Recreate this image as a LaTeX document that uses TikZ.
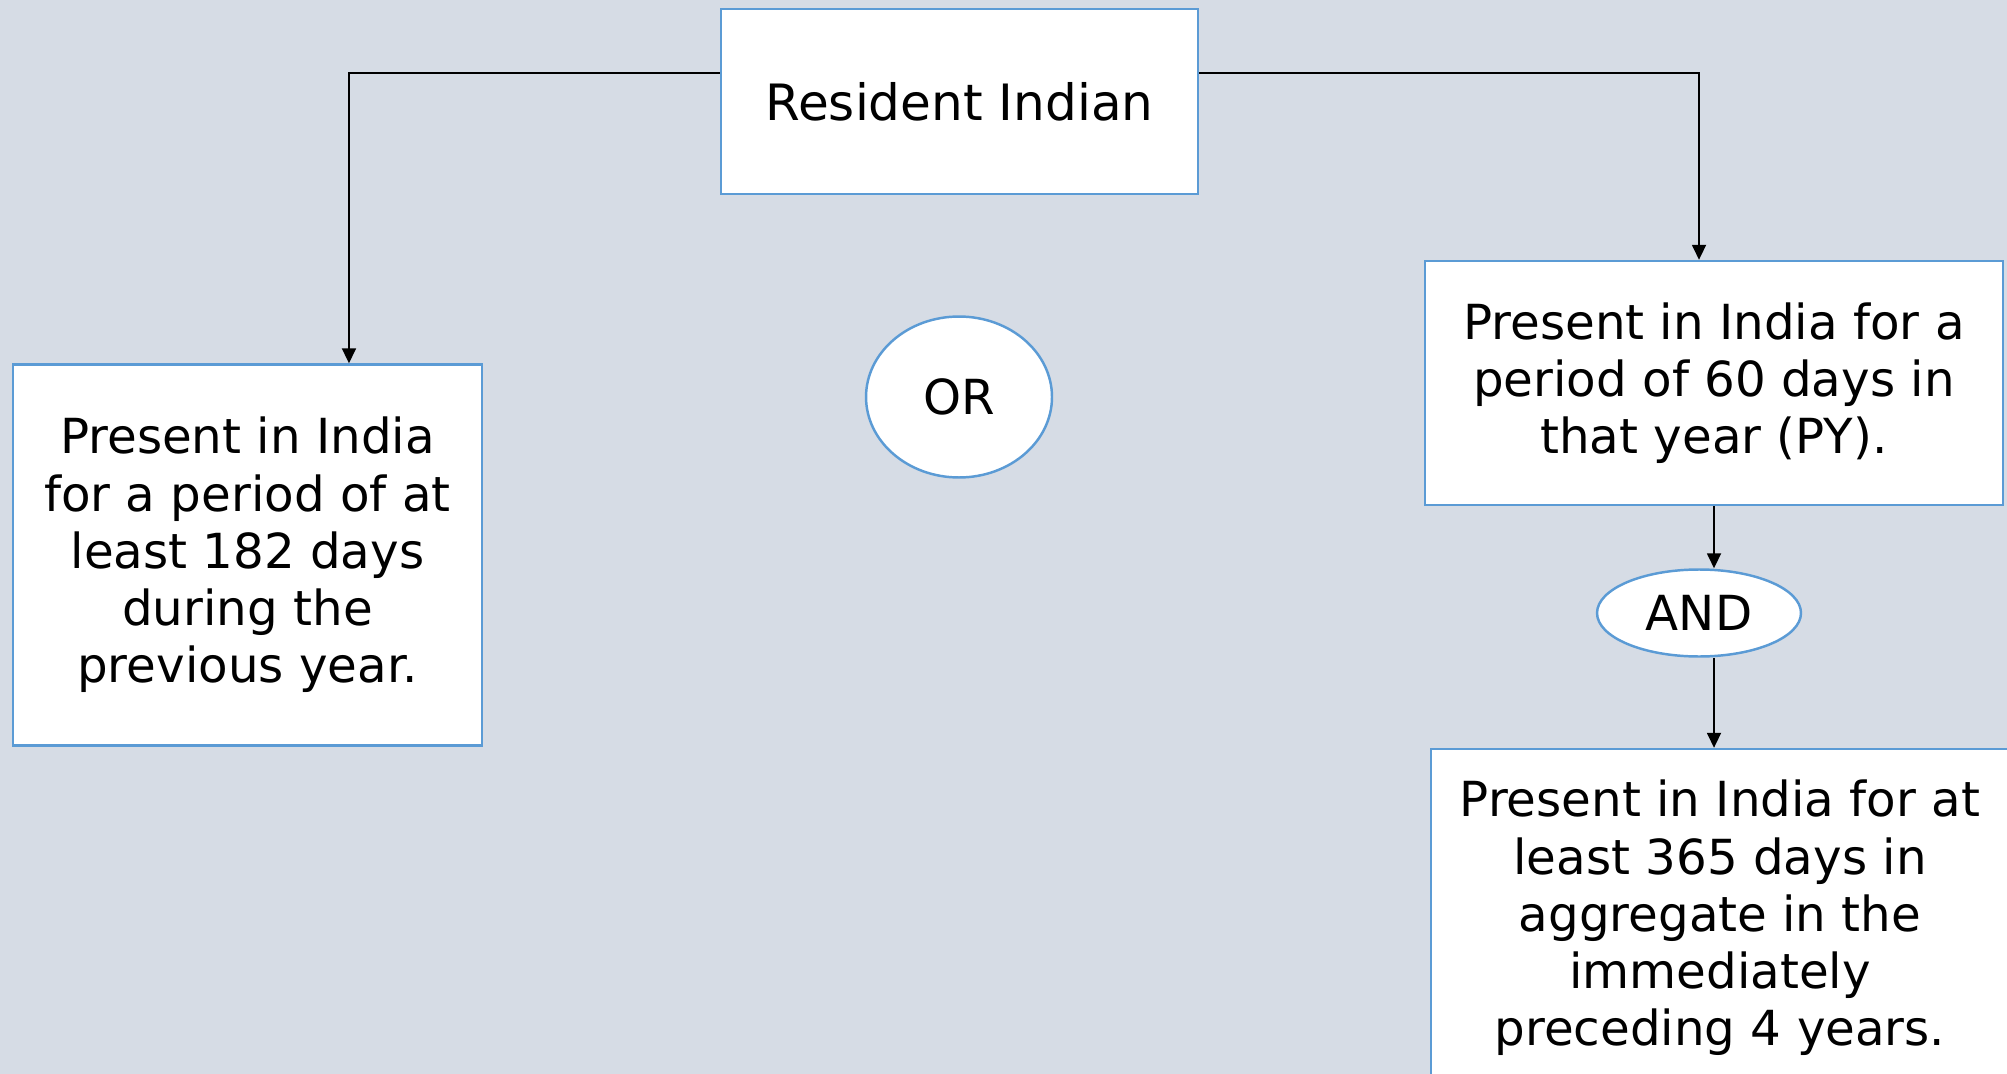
\documentclass[tikz,border=0pt]{standalone}
\usepackage{fontspec}
\setmainfont{DejaVu Sans}
\usetikzlibrary{arrows.meta,positioning,calc,shapes.geometric}
\definecolor{bgslate}{RGB}{214,220,229}
\definecolor{edgeblue}{RGB}{91,155,213}

\begin{document}
\begin{tikzpicture}[
  x=0.02cm, y=-0.02cm,
  font=\fontsize{27.5}{32.6}\selectfont,
  box/.style={draw=edgeblue, line width=1.4pt, fill=white, align=center, inner sep=0pt},
  ovl/.style={ellipse, draw=edgeblue, line width=1.4pt, fill=white, inner sep=0pt},
  ar/.style={-{Triangle[length=0.3cm,width=0.28cm]}, line width=1pt, draw=black}
]
\clip (0,0) rectangle (2007,1074);
\fill[bgslate] (0,0) rectangle (2007,1074);
\node[box, minimum width=9.54cm, minimum height=3.7cm, font=\fontsize{28.5}{34}\selectfont] (res) at (959.5,101.5) {Resident Indian};
\node[box, minimum width=9.38cm, minimum height=7.62cm] (yr182) at (247.5,555) {Present in India\\for a period of at\\least 182 days\\during the\\previous year.};
\node[ovl, minimum width=3.72cm, minimum height=3.22cm] (or) at (959,397) {OR};
\node[box, minimum width=11.56cm, minimum height=4.88cm] (py60) at (1714,383) {Present in India for a\\period of 60 days in\\that year (PY).};
\node[ovl, minimum width=4.08cm, minimum height=1.74cm] (and) at (1699,613) {AND};
\node[box, minimum width=11.56cm, minimum height=6.76cm] (agg365) at (1720,918) {Present in India for at\\least 365 days in\\aggregate in the\\immediately\\preceding 4 years.};
\draw[ar] ([yshift=0.57cm]res.west) -| ([xshift=2.03cm]yr182.north);
\draw[ar] ([yshift=0.57cm]res.east) -| ([xshift=-0.3cm]py60.north);
\draw[ar] (py60.south) -- (py60.south |- and.north);
\draw[ar] (py60.south |- and.south) -- (py60.south |- agg365.north);
\end{tikzpicture}
\end{document}
